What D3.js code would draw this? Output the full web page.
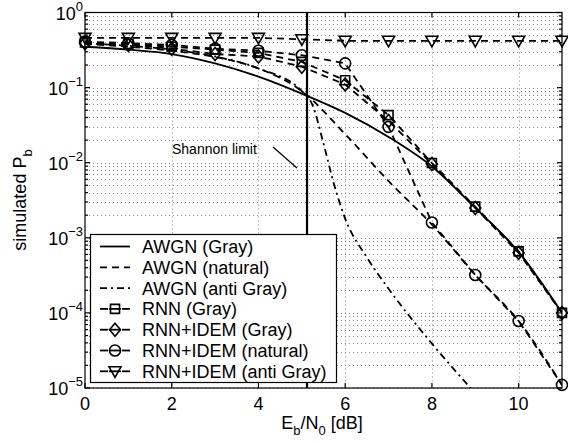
<!DOCTYPE html>
<html>
<head>
<meta charset="utf-8">
<script src="https://cdn.jsdelivr.net/npm/d3@7"></script>
<style>
body { margin: 0; background: #fff; }
text { font-family: "Liberation Sans", Arial, sans-serif; fill: #000; }
</style>
</head>
<body>
<svg id="chart" width="568" height="443"></svg>
<script>
// Eb/N0 in dB
var ebn0 = [0, 1, 2, 3, 4, 5, 6, 7, 8, 9, 10, 11];
var awgnGray = [0.35, 0.32, 0.28, 0.21, 0.14, 0.083, 0.046, 0.022, 0.0089, 0.0025, 0.00065, 0.0001];
var awgnNatural = [0.38, 0.35, 0.31, 0.255, 0.18, 0.09, 0.024, 0.0057, 0.0015, 0.00032, 0.000078, 0.000011];
var antiX = [0, 1, 2, 3, 4, 5, 5.25, 5.5, 5.75, 6, 6.5, 7, 8, 9];
var awgnAnti = [0.39, 0.36, 0.32, 0.26, 0.18, 0.09, 0.058, 0.018, 0.005, 0.0018, 0.00055, 0.00021, 0.000039, 0.0000085];
var rnnGray = [0.40, 0.38, 0.35, 0.32, 0.29, 0.22, 0.125, 0.043, 0.0099, 0.0026, 0.00066, 0.0001];
var rnnIdemGray = [0.39, 0.37, 0.33, 0.28, 0.26, 0.19, 0.11, 0.036, 0.0096, 0.0025, 0.00063, 0.0001];
var rnnIdemNatural = [0.41, 0.39, 0.37, 0.33, 0.31, 0.27, 0.21, 0.03, 0.0016, 0.00032, 0.000078, 0.000011];
var rnnIdemAnti = [0.46, 0.46, 0.46, 0.46, 0.46, 0.44, 0.42, 0.42, 0.42, 0.42, 0.42, 0.42];
var shannonLimit = 5.12;
var xTicks = [0, 2, 4, 6, 8, 10];
var yExps = [-5, -4, -3, -2, -1, 0];
var legendLabels = ["AWGN (Gray)", "AWGN (natural)", "AWGN (anti Gray)", "RNN (Gray)",
    "RNN+IDEM (Gray)", "RNN+IDEM (natural)", "RNN+IDEM (anti Gray)"];

var svg = d3.select("#chart"),
    pl = 85, pr = 562, pt = 12.5, pb = 388;

var xscale = d3.scaleLinear().domain([0, 11]).range([pl, pr]);
var yscale = d3.scaleLog().domain([1e-5, 1]).range([pb, pt]);

var DASH = "7,5", DASHDOT = "7,4,2,4";

// series list: x values, y values, dash style, marker, smooth or not
var series = [
    {x: ebn0, y: awgnGray, dash: null, marker: null, smooth: true},
    {x: ebn0, y: awgnNatural, dash: DASH, marker: null, smooth: true},
    {x: antiX, y: awgnAnti, dash: DASHDOT, marker: null, smooth: true},
    {x: ebn0, y: rnnGray, dash: DASH, marker: "square"},
    {x: ebn0, y: rnnIdemGray, dash: DASH, marker: "diamond"},
    {x: ebn0, y: rnnIdemNatural, dash: DASH, marker: "circle"},
    {x: ebn0, y: rnnIdemAnti, dash: DASH, marker: "triangle"}
];

function markerPath(type) {
    if (type == "square") return "M-4.5,-4.5H4.5V4.5H-4.5Z";
    if (type == "diamond") return "M0,-6.5L5.5,0L0,6.5L-5.5,0Z";
    if (type == "circle") return "M5.5,0A5.5,5.5 0 1,1 -5.5,0A5.5,5.5 0 1,1 5.5,0Z";
    if (type == "triangle") return "M-6,-4.5L6,-4.5L0,6Z";
    return "";
}

svg.append("defs").append("clipPath").attr("id", "plotclip")
    .append("rect").attr("x", pl).attr("y", pt)
    .attr("width", pr - pl).attr("height", pb - pt);

// grid
var grid = svg.append("g")
    .attr("stroke", "#8a8a8a").attr("stroke-width", 1).attr("stroke-dasharray", "1,3");
xTicks.filter(function(d) { return d > 0; }).forEach(function(d) {
    var px = Math.round(xscale(d)) + 0.5;
    grid.append("line").attr("x1", px).attr("x2", px).attr("y1", pt).attr("y2", pb);
});
var gridVals = [];
yExps.slice(0, -1).forEach(function(e) {
    for (var k = 1; k <= 9; k++) gridVals.push(k * Math.pow(10, e));
});
gridVals.forEach(function(v) {
    var py = Math.round(yscale(v)) + 0.5;
    grid.append("line").attr("x1", pl).attr("x2", pr).attr("y1", py).attr("y2", py);
});

// Shannon limit
svg.append("line")
    .attr("x1", xscale(shannonLimit)).attr("x2", xscale(shannonLimit))
    .attr("y1", pt).attr("y2", pb)
    .attr("stroke", "#000").attr("stroke-width", 2.2);

// curves
var curves = svg.append("g").attr("clip-path", "url(#plotclip)");
series.forEach(function(s) {
    var pts = s.x.map(function(d, i) { return [d, s.y[i]]; });
    var line = d3.line()
        .x(function(d) { return xscale(d[0]); })
        .y(function(d) { return yscale(d[1]); })
        .curve(s.smooth ? d3.curveMonotoneX : d3.curveLinear);
    curves.append("path")
        .attr("d", line(pts))
        .attr("fill", "none")
        .attr("stroke", "#000")
        .attr("stroke-width", 1.8)
        .attr("stroke-dasharray", s.dash);
});

// markers (not clipped)
series.filter(function(s) { return s.marker; }).forEach(function(s) {
    svg.append("g").selectAll("path")
        .data(s.x.map(function(d, i) { return [d, s.y[i]]; }))
        .enter().append("path")
        .attr("d", markerPath(s.marker))
        .attr("transform", function(d) { return "translate(" + xscale(d[0]) + "," + yscale(d[1]) + ")"; })
        .attr("fill", "none")
        .attr("stroke", "#000")
        .attr("stroke-width", 1.6);
});

// annotation
svg.append("text").attr("x", 172).attr("y", 154).attr("font-size", 14).text("Shannon limit");
svg.append("line").attr("x1", 273).attr("y1", 147).attr("x2", 297).attr("y2", 168)
    .attr("stroke", "#000").attr("stroke-width", 1.2);

// axes box + ticks
var axes = svg.append("g").attr("stroke", "#000").attr("stroke-width", 1.2);
axes.append("rect").attr("x", pl).attr("y", pt)
    .attr("width", pr - pl).attr("height", pb - pt).attr("fill", "none");
xTicks.forEach(function(d) {
    var px = xscale(d);
    axes.append("line").attr("x1", px).attr("x2", px).attr("y1", pb).attr("y2", pb - 5);
    axes.append("line").attr("x1", px).attr("x2", px).attr("y1", pt).attr("y2", pt + 5);
});
gridVals.concat([1]).forEach(function(v) {
    var py = yscale(v);
    var major = Math.abs(Math.log10(v) - Math.round(Math.log10(v))) < 1e-9;
    var len = major ? 5 : 3;
    axes.append("line").attr("x1", pl).attr("x2", pl + len).attr("y1", py).attr("y2", py);
    axes.append("line").attr("x1", pr).attr("x2", pr - len).attr("y1", py).attr("y2", py);
});

// tick labels
svg.append("g").selectAll("text").data(xTicks).enter().append("text")
    .attr("x", function(d) { return xscale(d); })
    .attr("y", 410)
    .attr("text-anchor", "middle")
    .attr("font-size", 18)
    .text(function(d) { return d; });

var ylab = svg.append("g").selectAll("text").data(yExps).enter().append("text")
    .attr("x", 83)
    .attr("y", function(d) { return yscale(Math.pow(10, d)) + 7; })
    .attr("text-anchor", "end")
    .attr("font-size", 18);
ylab.append("tspan").text("10");
ylab.append("tspan").attr("font-size", 13).attr("dy", -9)
    .text(function(d) { return d < 0 ? "\u2212" + (-d) : d; });

// axis titles
var xt = svg.append("text").attr("x", 322).attr("y", 429)
    .attr("text-anchor", "middle").attr("font-size", 18);
xt.append("tspan").text("E");
xt.append("tspan").attr("font-size", 13).attr("dy", 6).text("b");
xt.append("tspan").attr("dy", -6).text("/N");
xt.append("tspan").attr("font-size", 13).attr("dy", 6).text("0");
xt.append("tspan").attr("dy", -6).text(" [dB]");

var yt = svg.append("text")
    .attr("transform", "translate(26,200) rotate(-90)")
    .attr("text-anchor", "middle").attr("font-size", 18);
yt.append("tspan").text("simulated P");
yt.append("tspan").attr("font-size", 13).attr("dy", 6).text("b");

// legend
var lg = svg.append("g");
lg.append("rect").attr("x", 90.5).attr("y", 234.5).attr("width", 246).attr("height", 148)
    .attr("fill", "#fff").attr("stroke", "#000").attr("stroke-width", 1.2);
var rows = lg.selectAll("g.row").data(series).enter().append("g")
    .attr("class", "row")
    .attr("transform", function(d, i) { return "translate(0," + (246.5 + i * 20.8) + ")"; });
rows.each(function(s) {
    var g = d3.select(this);
    if (s.marker) {
        g.append("line").attr("x1", 100).attr("x2", 108).attr("y1", 0).attr("y2", 0)
            .attr("stroke", "#000").attr("stroke-width", 1.8);
        g.append("line").attr("x1", 122).attr("x2", 130).attr("y1", 0).attr("y2", 0)
            .attr("stroke", "#000").attr("stroke-width", 1.8);
        g.append("line").attr("x1", 109).attr("x2", 121).attr("y1", 0).attr("y2", 0)
            .attr("stroke", "#000").attr("stroke-width", 1.8);
        g.append("path").attr("d", markerPath(s.marker)).attr("transform", "translate(115,0)")
            .attr("fill", "none").attr("stroke", "#000").attr("stroke-width", 1.6);
    } else {
        g.append("line").attr("x1", 100).attr("x2", 130).attr("y1", 0).attr("y2", 0)
            .attr("stroke", "#000").attr("stroke-width", 1.8)
            .attr("stroke-dasharray", s.dash);
    }
});
rows.append("text").attr("x", 142).attr("y", 6.5).attr("font-size", 18)
    .text(function(d, i) { return legendLabels[i]; });
</script>
</body>
</html>
